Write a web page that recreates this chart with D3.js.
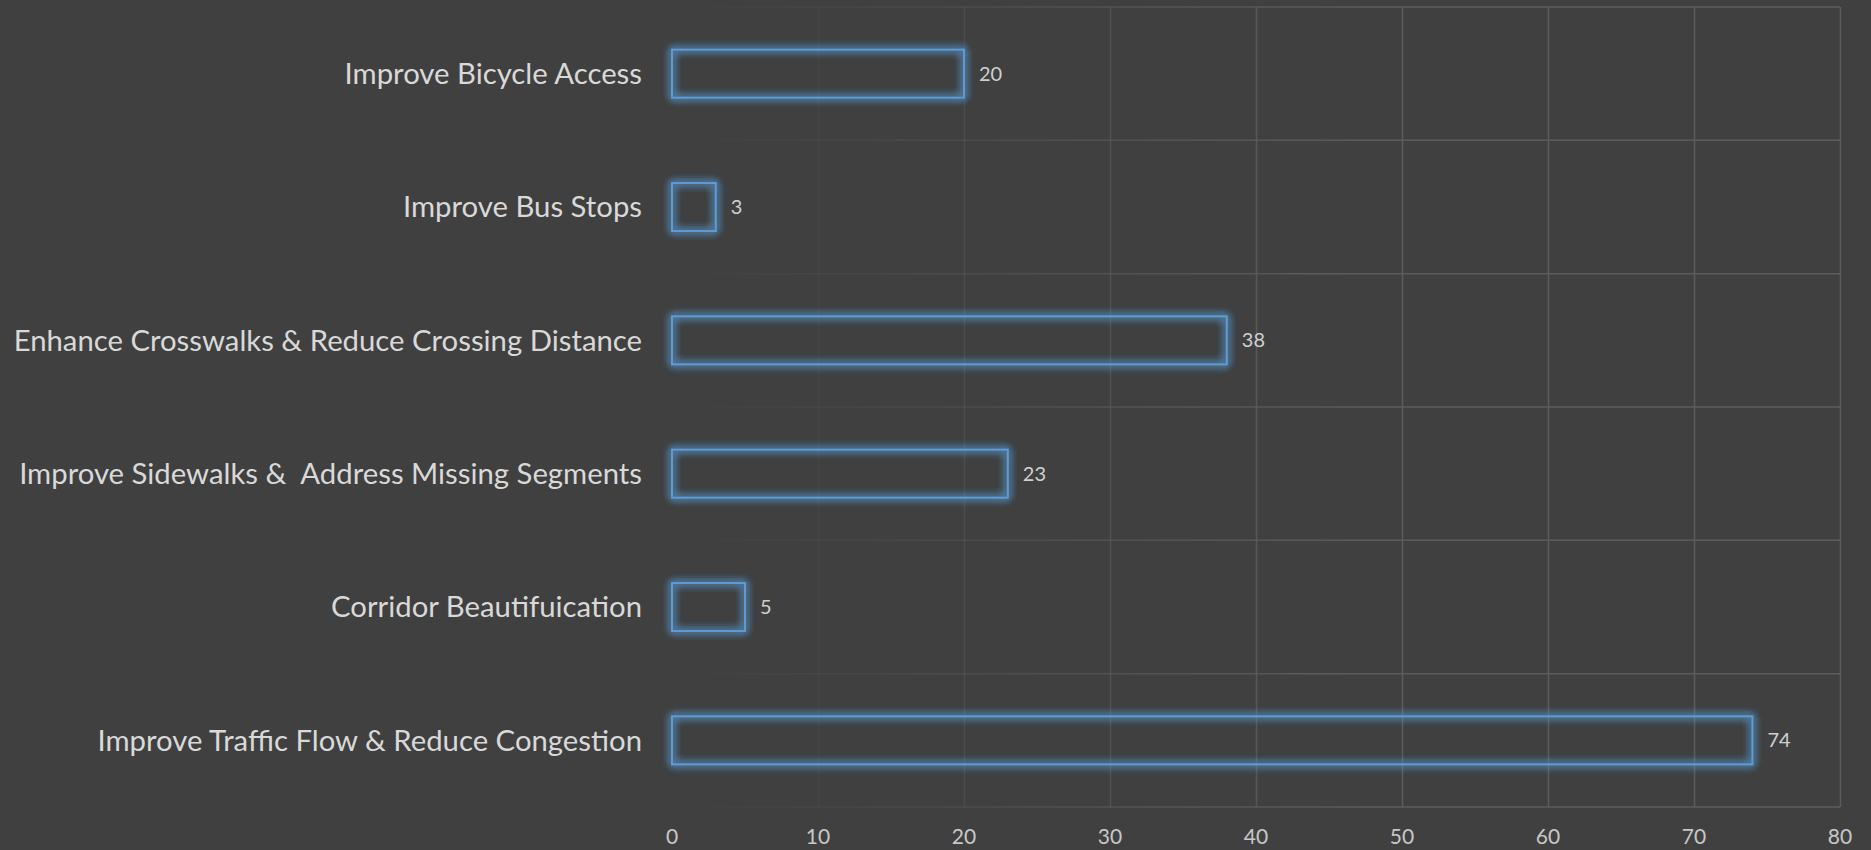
<!DOCTYPE html>
<html>
<head>
<meta charset="utf-8">
<script src="https://cdn.jsdelivr.net/npm/d3@7"></script>
<style>
    html, body { margin: 0; padding: 0; background: #404040; }
    svg { display: block; }
    text { font-family: Lato, "Open Sans", sans-serif; white-space: pre; }
</style>
</head>
<body>
<svg id="chart"></svg>
<script>
const categories = [
    "Improve Bicycle Access",
    "Improve Bus Stops",
    "Enhance Crosswalks & Reduce Crossing Distance",
    "Improve Sidewalks &  Address Missing Segments",
    "Corridor Beautifuication",
    "Improve Traffic Flow & Reduce Congestion"
];
const counts = [20, 3, 38, 23, 5, 74];
const xTicks = [0, 10, 20, 30, 40, 50, 60, 70, 80];

const config = {
    containerWidth: 1871,
    containerHeight: 850,
    margin: { top: 7, right: 31, bottom: 43, left: 672 },
    barColor: "#5b9bd5",
    gridColor: "#5c5c5c"
};

const width = config.containerWidth - config.margin.left - config.margin.right;
const height = config.containerHeight - config.margin.top - config.margin.bottom;

const svg = d3.select("#chart")
    .attr("width", config.containerWidth)
    .attr("height", config.containerHeight);

const defs = svg.append("defs");

// grid lines fade out towards the left side
const grad = defs.append("linearGradient")
    .attr("id", "gridFade")
    .attr("gradientUnits", "userSpaceOnUse")
    .attr("x1", 0).attr("x2", width * 0.6)
    .attr("y1", 0).attr("y2", 0);
grad.append("stop").attr("offset", 0).attr("stop-color", config.gridColor).attr("stop-opacity", 0);
grad.append("stop").attr("offset", 1).attr("stop-color", config.gridColor).attr("stop-opacity", 1);

// soft blue glow round the bars
const glow = defs.append("filter")
    .attr("id", "glow")
    .attr("x", "-20%").attr("y", "-60%")
    .attr("width", "140%").attr("height", "220%");
glow.append("feGaussianBlur")
    .attr("in", "SourceGraphic")
    .attr("stdDeviation", 4)
    .attr("result", "blur");
const merge = glow.append("feMerge");
merge.append("feMergeNode").attr("in", "blur");
merge.append("feMergeNode").attr("in", "blur");
merge.append("feMergeNode").attr("in", "blur");
merge.append("feMergeNode").attr("in", "SourceGraphic");

const chart = svg.append("g")
    .attr("transform", `translate(${config.margin.left}, ${config.margin.top})`);

const x = d3.scaleLinear()
    .domain([0, 80])
    .range([0, width]);

const y = d3.scaleBand()
    .domain(categories)
    .range([0, height])
    .paddingInner(0.64)
    .paddingOuter(0.32);

// band boundaries for horizontal grid
const step = y.step();
const bandEdges = d3.range(categories.length + 1).map((i) => y(categories[0]) - y.paddingOuter() * step + i * step);

const grid = chart.append("g").attr("class", "grid");

grid.selectAll(".vgrid")
    .data(xTicks.slice(1))
    .join("line")
    .attr("class", "vgrid")
    .attr("x1", (d) => x(d) + 0.5)
    .attr("x2", (d) => x(d) + 0.5)
    .attr("y1", 0)
    .attr("y2", height)
    .attr("stroke", "url(#gridFade)")
    .attr("stroke-width", 1.5);

grid.selectAll(".hgrid")
    .data(bandEdges)
    .join("line")
    .attr("class", "hgrid")
    .attr("x1", 0)
    .attr("x2", width)
    .attr("y1", (d) => d)
    .attr("y2", (d) => d)
    .attr("stroke", "url(#gridFade)")
    .attr("stroke-width", 1.5);

// bars: outline only
chart.selectAll(".bar")
    .data(categories)
    .join("rect")
    .attr("class", "bar")
    .attr("x", x(0))
    .attr("y", (d) => y(d))
    .attr("width", (d, i) => x(counts[i]) - x(0))
    .attr("height", y.bandwidth())
    .attr("fill", "none")
    .attr("stroke", config.barColor)
    .attr("stroke-width", 2)
    .attr("filter", "url(#glow)");

// value labels
chart.selectAll(".value")
    .data(categories)
    .join("text")
    .attr("class", "value")
    .attr("x", (d, i) => x(counts[i]) + 15)
    .attr("y", (d) => y(d) + y.bandwidth() / 2)
    .attr("dy", "0.35em")
    .attr("fill", "#d0d0d0")
    .attr("font-size", 20)
    .text((d, i) => counts[i]);

// category labels
chart.selectAll(".cat")
    .data(categories)
    .join("text")
    .attr("class", "cat")
    .attr("x", -30)
    .attr("y", (d) => y(d) + y.bandwidth() / 2)
    .attr("dy", "0.35em")
    .attr("text-anchor", "end")
    .attr("fill", "#d9d9d9")
    .attr("font-size", 29.3)
    .text((d) => d);

// x axis tick labels
chart.selectAll(".tick-label")
    .data(xTicks)
    .join("text")
    .attr("class", "tick-label")
    .attr("x", (d) => x(d))
    .attr("y", height + 30)
    .attr("dy", "0.35em")
    .attr("text-anchor", "middle")
    .attr("fill", "#c8c8c8")
    .attr("font-size", 21)
    .text((d) => d);
</script>
</body>
</html>
